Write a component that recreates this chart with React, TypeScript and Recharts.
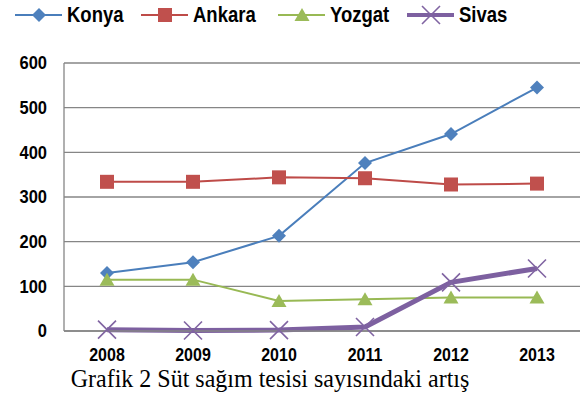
import React from "react";
import { LineChart, Line, XAxis, YAxis, CartesianGrid } from "recharts";

const years = ["2008", "2009", "2010", "2011", "2012", "2013"];
const konya = [130, 154, 213, 376, 441, 545];
const ankara = [334, 334, 344, 342, 328, 330];
const yozgat = [115, 115, 67, 71, 75, 75];
const sivas = [3, 1, 2, 9, 109, 140];
const yTicks = [0, 100, 200, 300, 400, 500, 600];

const data = years.map((y, i) => ({
  year: y,
  Konya: konya[i],
  Ankara: ankara[i],
  Yozgat: yozgat[i],
  Sivas: sivas[i],
}));

const SERIES = [
  { key: "Konya", color: "#4A7EBB", fill: "#4F81BD", width: 2, shape: "diamond" },
  { key: "Ankara", color: "#BE4B48", fill: "#C0504D", width: 2, shape: "square" },
  { key: "Yozgat", color: "#98B954", fill: "#9BBB59", width: 2, shape: "triangle" },
  { key: "Sivas", color: "#7D60A0", fill: "#8064A2", width: 5, shape: "x" },
];

const SANS = "'Liberation Sans', Arial, sans-serif";

function Marker({ shape, cx, cy, fill }: { shape: string; cx: number; cy: number; fill: string }) {
  if (shape === "diamond") {
    return <path d={`M${cx} ${cy - 7}L${cx + 7} ${cy}L${cx} ${cy + 7}L${cx - 7} ${cy}Z`} fill={fill} />;
  }
  if (shape === "square") {
    return <rect x={cx - 7} y={cy - 7} width={14} height={14} fill={fill} />;
  }
  if (shape === "triangle") {
    return <path d={`M${cx} ${cy - 7}L${cx + 7.5} ${cy + 6}L${cx - 7.5} ${cy + 6}Z`} fill={fill} />;
  }
  return (
    <path
      d={`M${cx - 9} ${cy - 9}L${cx + 9} ${cy + 9}M${cx + 9} ${cy - 9}L${cx - 9} ${cy + 9}`}
      stroke={fill}
      strokeWidth={1.6}
      fill="none"
    />
  );
}

const makeDot = (shape: string, fill: string, name: string) => (props: any) => {
  const { cx, cy, index } = props;
  if (cx == null || cy == null) return <g key={`${name}-${index}`} />;
  return (
    <g key={`${name}-${index}`}>
      <Marker shape={shape} cx={cx} cy={cy} fill={fill} />
    </g>
  );
};

function TopLegend() {
  const offsets = [15, 141, 278, 407];
  return (
    <svg width={584} height={32} style={{ display: "block" }}>
      {SERIES.map((s, i) => {
        const x = offsets[i];
        return (
          <g key={s.key}>
            <line x1={x} y1={15} x2={x + 47} y2={15} stroke={s.color} strokeWidth={s.key === "Sivas" ? 4 : 2} />
            <Marker shape={s.shape} cx={x + 24} cy={15} fill={s.fill} />
            <text
              transform={`translate(${x + 52},22) scale(1,1.18)`}
              fontFamily={SANS}
              fontWeight="bold"
              fontSize={18.5}
              fill="#000"
            >
              {s.key}
            </text>
          </g>
        );
      })}
    </svg>
  );
}

function XTick(props: any) {
  const { x, y, payload } = props;
  return (
    <text
      transform={`translate(${x},${y}) scale(1,1.13)`}
      y={12}
      textAnchor="middle"
      fontFamily={SANS}
      fontWeight="bold"
      fontSize={16}
      fill="#000"
    >
      {payload.value}
    </text>
  );
}

function YTick(props: any) {
  const { x, y, payload } = props;
  return (
    <text
      transform={`translate(${x},${y}) scale(1,1.13)`}
      y={5.7}
      textAnchor="end"
      fontFamily={SANS}
      fontWeight="bold"
      fontSize={16.5}
      fill="#000"
    >
      {payload.value}
    </text>
  );
}

export default function App() {
  return (
    <div style={{ position: "absolute", left: 0, top: 0, width: 584, height: 405, background: "#fff" }}>
      <div style={{ position: "absolute", left: 0, top: 0 }}>
        <TopLegend />
      </div>
      <div style={{ position: "absolute", left: 0, top: 0 }}>
        <LineChart width={584} height={370} data={data} margin={{ top: 63, right: 4, left: 0, bottom: 0 }}>
          <CartesianGrid vertical={false} stroke="#868686" strokeWidth={1.3} />
          <XAxis
            dataKey="year"
            scale="band"
            height={39}
            axisLine={{ stroke: "#868686", strokeWidth: 1.3 }}
            tickLine={false}
            tick={<XTick />}
            tickMargin={10}
          />
          <YAxis
            width={64}
            domain={[0, 600]}
            ticks={yTicks}
            interval={0}
            axisLine={{ stroke: "#868686", strokeWidth: 1.3 }}
            tickLine={false}
            tick={<YTick />}
            tickMargin={11}
          />
          {SERIES.map((s) => (
            <Line
              key={s.key}
              dataKey={s.key}
              stroke={s.color}
              strokeWidth={s.width}
              dot={makeDot(s.shape, s.fill, s.key)}
              activeDot={false}
              isAnimationActive={false}
            />
          ))}
        </LineChart>
      </div>
      <div
        style={{
          position: "absolute",
          left: 0,
          top: 363,
          width: 540,
          textAlign: "center",
          fontFamily: "'Liberation Serif', 'Times New Roman', serif",
          fontSize: 24,
          color: "#000",
          lineHeight: "30px",
          transform: "scaleY(1.07)",
        }}
      >
        Grafik 2 Süt sağım tesisi sayısındaki artış
      </div>
    </div>
  );
}
